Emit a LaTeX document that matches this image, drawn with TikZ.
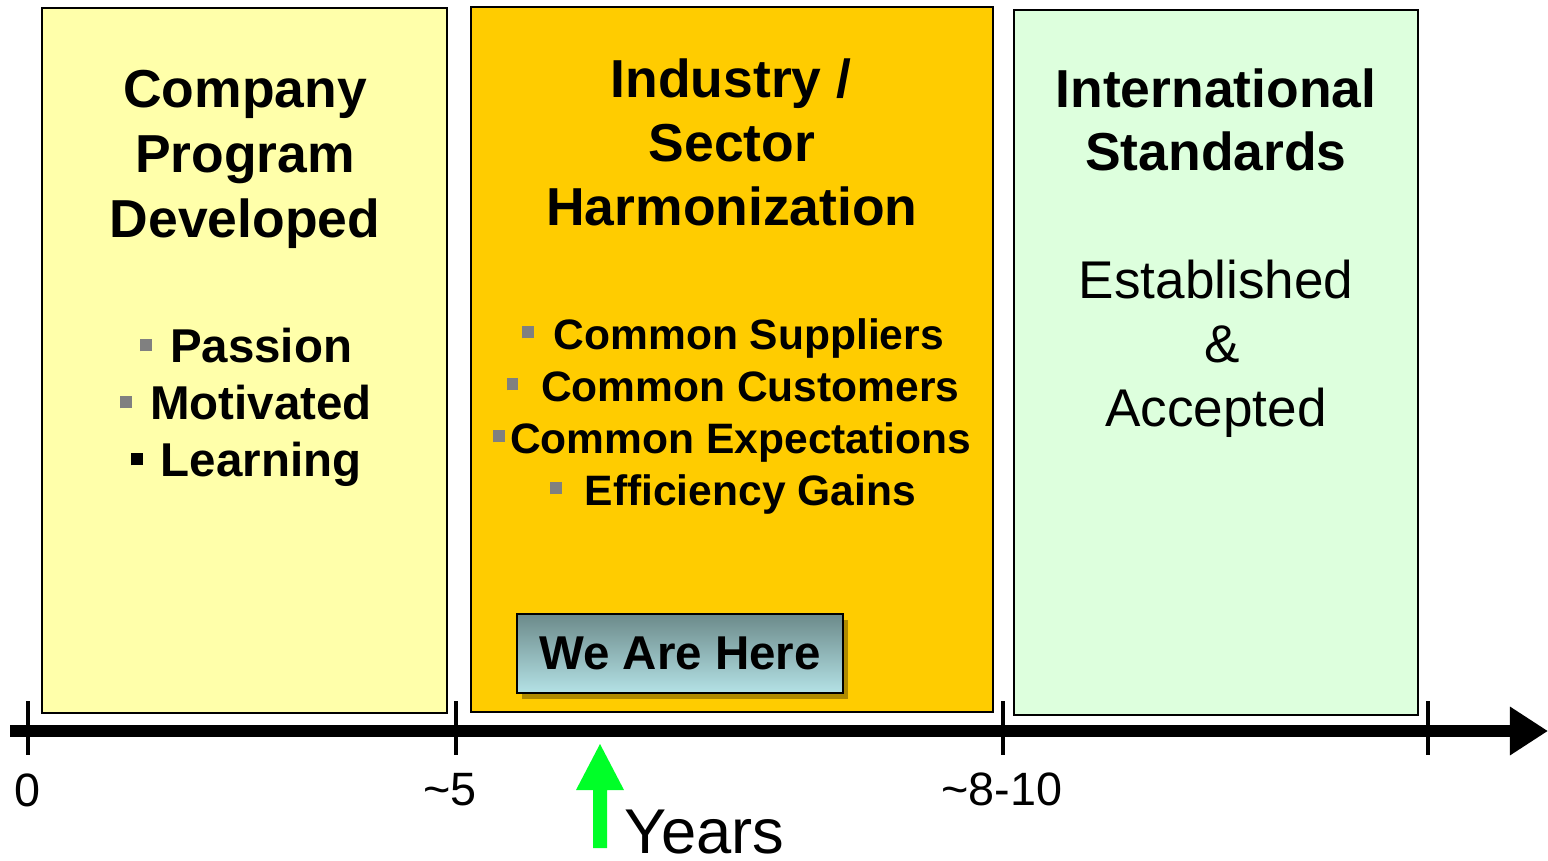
\documentclass[tikz,border=0pt]{standalone}
\usepackage{fontspec}
\setmainfont{Liberation Sans}
\usepackage{xcolor}
\usepackage{tikz}
\usetikzlibrary{arrows.meta,shadows}

\definecolor{paleyellow}{RGB}{255,255,170}
\definecolor{gold}{RGB}{255,204,0}
\definecolor{palegreen}{RGB}{221,255,221}
\definecolor{hereTop}{RGB}{108,138,138}
\definecolor{hereBottom}{RGB}{180,226,230}
\definecolor{bulletgray}{RGB}{128,128,128}
\definecolor{brightgreen}{RGB}{0,255,40}
\definecolor{shadowbrown}{RGB}{120,95,0}

\newcommand{\sqbul}[1][bulletgray]{\textcolor{#1}{\rule[3.3pt]{3.4pt}{3.4pt}}}

\tikzset{
	phase/.style={draw=black,line width=0.6pt},
	title/.style={font=\fontsize{15.2}{18}\selectfont\bfseries,anchor=base,inner sep=0pt},
	item/.style={font=\fontsize{#1}{16}\selectfont\bfseries,anchor=base,inner sep=0pt},
	item/.default=13.5,
	plain/.style={font=\fontsize{15.1}{18}\selectfont,anchor=base,inner sep=0pt},
	ticklabel/.style={font=\fontsize{13.3}{16}\selectfont,anchor=base,inner sep=0pt}
}

\begin{document}
\begin{tikzpicture}[x=0.01cm,y=-0.01cm]
		\useasboundingbox (0,0) rectangle (1548,861);

		% the three phases
		\path[phase,fill=paleyellow] (42,8) rectangle (447,713);
		\path[phase,fill=gold] (471,7) rectangle (993,712);
		\path[phase,fill=palegreen] (1014,10) rectangle (1418,715);

		\node[title] (C1) at (245,108) {Company};
		\node[title] (C2) at (245,173) {Program};
		\node[title] (C3) at (245,238) {Developed};
		\node[item] (pass) at (246,363) {\sqbul\hspace{5.2pt}Passion};
		\node[item] (motiv) at (246,420) {\sqbul\hspace{5.2pt}Motivated};
		\node[item] (learn) at (246,477) {\sqbul[black]\hspace{5.2pt}Learning};

		\node[title] (I1) at (731,98) {Industry /};
		\node[title] (I2) at (732,162) {Sector};
		\node[title] (I3) at (732,226) {Harmonization};
		\node[item=12.1] (supp) at (733,350) {\sqbul\hspace{5.6pt}Common Suppliers};
		\node[item=12.1] (cust) at (733,402) {\sqbul\hspace{6.4pt}Common Customers};
		\node[item=12.1] (expect) at (732,454) {\sqbul\hspace{1.6pt}Common Expectations};
		\node[item=12.1] (effic) at (733,506) {\sqbul\hspace{6.4pt}Efficiency Gains};

		\node[title] (S1) at (1216,108) {International};
		\node[title] (S2) at (1216,171) {Standards};
		\node[plain] (est) at (1216,299) {Established};
		\node[plain] (amp) at (1222,363) {\&};
		\node[plain] (acc) at (1216,427) {Accepted};

		\node[draw=black,line width=0.7pt,top color=hereTop,bottom color=hereBottom,
			drop shadow={shadow xshift=0.05cm,shadow yshift=-0.06cm,opacity=0.6,fill=shadowbrown},
			minimum width=3.26cm,minimum height=0.79cm,inner sep=0pt,
			font=\fontsize{13.5}{16}\selectfont\bfseries] (here) at (680,653.5) {We Are Here};

		% time axis
		\draw[line width=0.12cm,-{Triangle[length=0.38cm,width=0.46cm]}] (10,731) -- (1548,731);
		\foreach \t in {28,456,1003,1428}
			\draw[line width=0.04cm] (\t,701) -- (\t,755);

		\node[ticklabel] (t0) at (28,806) {0};
		\node[ticklabel] (t5) at (450,805) {\textasciitilde5};
		\node[ticklabel] (t10) at (1002,805) {\textasciitilde8-10};

		% now marker
		\fill[brightgreen] (593,848) -- (593,790) -- (576,790) -- (600,744)
			-- (624,790) -- (607,790) -- (607,848) -- cycle;
		\node[font=\fontsize{18}{21}\selectfont,anchor=base west,inner sep=0pt] (years) at (624,853) {Years};
	\end{tikzpicture}
\end{document}
